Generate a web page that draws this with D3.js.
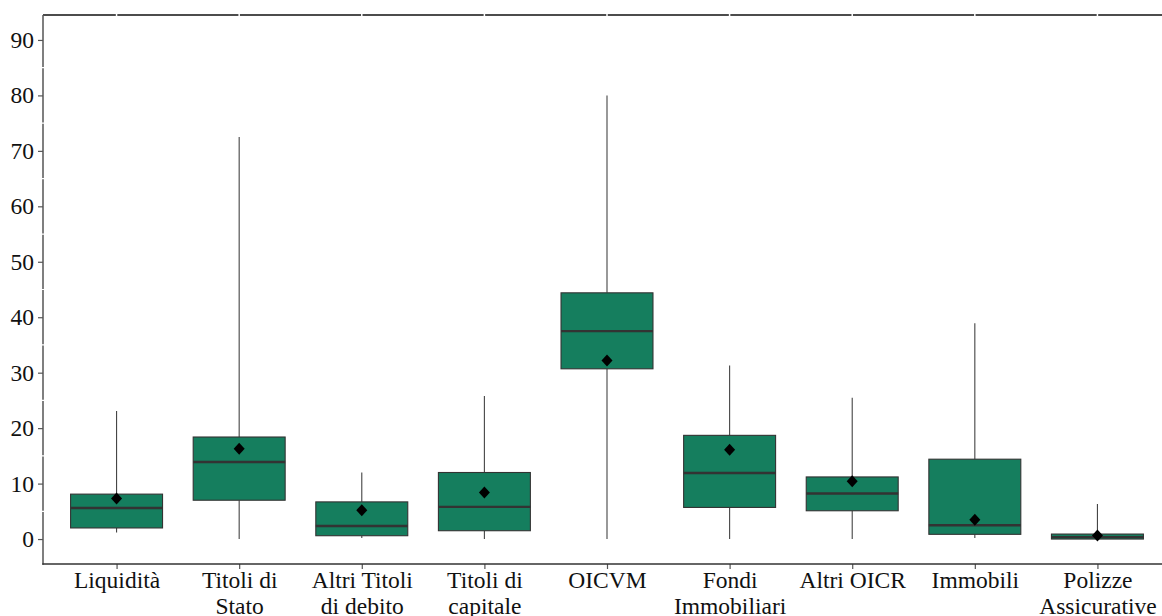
<!DOCTYPE html>
<html>
<head>
<meta charset="utf-8">
<script src="https://cdn.jsdelivr.net/npm/d3@7"></script>
<style>
  body { margin: 0; background: #fff; }
  svg { display: block; }
  svg text { font-family: "Liberation Serif", "Times New Roman", serif; }
</style>
</head>
<body>
<div id="chart"></div>
<script>
// categories (two-line labels split with |)
var categories = ["Liquidità", "Titoli di|Stato", "Altri Titoli|di debito", "Titoli di|capitale", "OICVM",
  "Fondi|Immobiliari", "Altri OICR", "Immobili", "Polizze|Assicurative"];
// box stats
var whiskerLow  = [1.2, 0.0, 0.2, 0.0, 0.0, 0.0, 0.0, 0.2, 0.0];
var q1          = [2.0, 7.0, 0.6, 1.5, 30.7, 5.7, 5.1, 0.85, 0.0];
var medians     = [5.6, 13.9, 2.35, 5.8, 37.5, 11.9, 8.2, 2.5, 0.35];
var q3          = [8.1, 18.4, 6.7, 12.0, 44.4, 18.7, 11.2, 14.4, 0.9];
var whiskerHigh = [23.1, 72.5, 12.0, 25.8, 80.0, 31.3, 25.5, 38.9, 6.3];
var means       = [7.3, 16.3, 5.2, 8.4, 32.2, 16.1, 10.4, 3.5, 0.65];
var yTicks = [0, 10, 20, 30, 40, 50, 60, 70, 80, 90];
var yMinor = [5, 15, 25, 35, 45, 55, 65, 75, 85];

var width = 1162, height = 616;
var margin = {top: 15, left: 43, bottom: 564, right: 1171};
var fill = "#157e5e";
var serif = "Liberation Serif";

var svg = d3.select("#chart").append("svg")
  .attr("width", width)
  .attr("height", height);

var x = d3.scalePoint()
  .domain(categories)
  .range([margin.left, margin.right])
  .padding(0.6);
var y = d3.scaleLinear()
  .domain([-4.5, 94.5])
  .range([margin.bottom, margin.top]);

var boxW = x.step() * 0.75;

// top border + left axis line (drawn under the white grid)
svg.append("line")
  .attr("x1", margin.left).attr("x2", width)
  .attr("y1", margin.top).attr("y2", margin.top)
  .attr("stroke", "#111").attr("stroke-width", 1.5);

var yAxis = svg.append("g")
  .attr("transform", "translate(" + margin.left + ",0)")
  .call(d3.axisLeft(y).tickValues(yTicks).tickSize(5).tickPadding(4))
  .attr("font-family", serif).attr("font-size", 23.5);
yAxis.select(".domain").remove();
yAxis.selectAll(".tick line").attr("stroke", "#555").attr("stroke-width", 1.2);
yAxis.selectAll(".tick text").attr("fill", "#111");
svg.append("line")
  .attr("x1", margin.left).attr("x2", margin.left)
  .attr("y1", margin.top).attr("y2", margin.bottom + 0.7)
  .attr("stroke", "#555").attr("stroke-width", 1.5);

// white grid lines (cut the axis lines like the original theme)
svg.append("g").selectAll("line")
  .data(yMinor).join("line")
  .attr("x1", margin.left - 1).attr("x2", width)
  .attr("y1", d => y(d)).attr("y2", d => y(d))
  .attr("stroke", "#fff").attr("stroke-width", 1.2);
svg.append("g").selectAll("line")
  .data(categories).join("line")
  .attr("x1", d => x(d)).attr("x2", d => x(d))
  .attr("y1", margin.top - 1).attr("y2", margin.bottom)
  .attr("stroke", "#fff").attr("stroke-width", 1.5);

// bottom axis
var xAxis = svg.append("g")
  .attr("transform", "translate(0," + margin.bottom + ")")
  .call(d3.axisBottom(x).tickSize(5).tickFormat(""))
  .attr("font-family", serif).attr("font-size", 23.5);
xAxis.select(".domain").remove();
xAxis.selectAll(".tick line").attr("stroke", "#555").attr("stroke-width", 1.2);
svg.append("line")
  .attr("x1", margin.left - 0.7).attr("x2", width)
  .attr("y1", margin.bottom).attr("y2", margin.bottom)
  .attr("stroke", "#333").attr("stroke-width", 1.5);

xAxis.selectAll(".tick").each(function(d) {
  var lines = d.split("|");
  var t = d3.select(this).append("text")
    .attr("fill", "#111")
    .attr("text-anchor", "middle");
  lines.forEach(function(l, i) {
    t.append("tspan").attr("x", 0).attr("y", 24 + i * 26).text(l);
  });
});

// boxplots
var stats = categories.map(function(c, i) {
  return {cat: c, lo: whiskerLow[i], q1: q1[i], med: medians[i], q3: q3[i], hi: whiskerHigh[i], mean: means[i]};
});

var g = svg.append("g").selectAll("g")
  .data(stats).join("g");

g.append("line")
  .attr("x1", d => x(d.cat)).attr("x2", d => x(d.cat))
  .attr("y1", d => y(d.hi)).attr("y2", d => y(d.q3))
  .attr("stroke", "#444").attr("stroke-width", 1.1);
g.append("line")
  .attr("x1", d => x(d.cat)).attr("x2", d => x(d.cat))
  .attr("y1", d => y(d.q1)).attr("y2", d => y(d.lo))
  .attr("stroke", "#444").attr("stroke-width", 1.1);
g.append("rect")
  .attr("x", d => x(d.cat) - boxW / 2)
  .attr("width", boxW)
  .attr("y", d => y(d.q3))
  .attr("height", d => Math.max(y(d.q1) - y(d.q3), 1))
  .attr("fill", fill)
  .attr("stroke", "#333").attr("stroke-width", 1.1);
g.append("line")
  .attr("x1", d => x(d.cat) - boxW / 2).attr("x2", d => x(d.cat) + boxW / 2)
  .attr("y1", d => y(d.med)).attr("y2", d => y(d.med))
  .attr("stroke", "#333").attr("stroke-width", 2.4);

// mean markers (diamonds)
g.append("path")
  .attr("transform", d => "translate(" + x(d.cat) + "," + y(d.mean) + ")")
  .attr("d", "M0,-6L5.5,0L0,6L-5.5,0Z")
  .attr("fill", "#000");
</script>
</body>
</html>
